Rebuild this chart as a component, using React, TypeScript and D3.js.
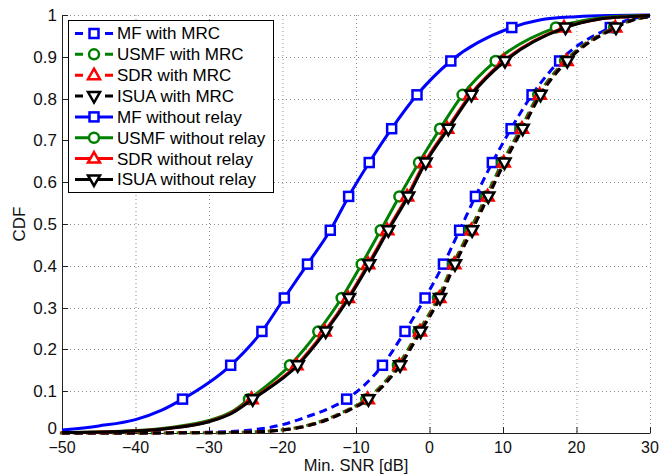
import React from "react";
import * as d3 from "d3";

const W = 659;
const H = 475;

const X_TICKS = [-50, -40, -30, -20, -10, 0, 10, 20, 30];
const Y_TICKS = [0, 0.1, 0.2, 0.3, 0.4, 0.5, 0.6, 0.7, 0.8, 0.9, 1];

// CDF levels at which markers are drawn
const MARKER_CDF = [0.081, 0.162, 0.243, 0.323, 0.404, 0.485, 0.566, 0.647, 0.728, 0.809, 0.89, 0.97];

// marker x positions (Min. SNR in dB) for each series
const mfMrcX = [-11.27, -6.4, -3.33, -0.6, 1.9, 4.1, 6.25, 8.55, 11.1, 13.95, 17.7, 24.6];
const usmfMrcX = [-8.6, -4.3, -1.5, 1.15, 3.2, 5.5, 7.7, 9.9, 12.4, 14.8, 18.45, 25.1];
const sdrMrcX = [-8.4, -4.1, -1.3, 1.33, 3.37, 5.7, 7.9, 10.1, 12.58, 15.0, 18.65, 25.27];
const isuaMrcX = [-8.3, -4.0, -1.2, 1.43, 3.47, 5.8, 8.0, 10.2, 12.68, 15.1, 18.75, 25.37];
const mfNoX = [-33.6, -27.05, -22.8, -19.75, -16.6, -13.5, -11.0, -8.2, -5.15, -1.7, 2.9, 11.2];
const usmfNoX = [-24.56, -18.98, -15.13, -11.95, -9.23, -6.64, -4.1, -1.43, 1.43, 4.5, 9.0, 17.2];
const sdrNoX = [-24.2, -18.1, -14.28, -11.1, -8.35, -5.75, -3.05, -0.67, 2.4, 5.55, 10.1, 18.3];
const isuaNoX = [-24.05, -17.93, -14.12, -10.95, -8.2, -5.6, -2.9, -0.52, 2.56, 5.7, 10.27, 18.5];

// tails of the curves beyond the marker range: [x, cdf]
const mfMrcLow: [number, number][] = [[-50, 0], [-35, 0.0005], [-30, 0.002], [-25, 0.006], [-20, 0.02], [-16.5, 0.04], [-13.5, 0.06]];
const mfMrcHigh: [number, number][] = [[27, 0.988], [30, 0.997]];
const isuaMrcLow: [number, number][] = [[-50, 0], [-30, 0.0005], [-25, 0.002], [-20, 0.007], [-15, 0.025], [-11.5, 0.05]];
const isuaMrcHigh: [number, number][] = [[28, 0.99], [30, 0.996]];
const mfNoLow: [number, number][] = [[-50, 0.007], [-45, 0.017], [-40, 0.032], [-36.5, 0.054]];
const mfNoHigh: [number, number][] = [[15, 0.988], [20, 0.996], [25, 0.999], [30, 1]];
const usmfNoLow: [number, number][] = [[-50, 0.001], [-40, 0.006], [-35, 0.014], [-30, 0.03], [-27, 0.05]];
const usmfNoHigh: [number, number][] = [[22, 0.99], [26, 0.997], [30, 0.999]];
const isuaNoLow: [number, number][] = [[-50, 0.001], [-40, 0.005], [-35, 0.012], [-30, 0.027], [-27, 0.046]];
const isuaNoHigh: [number, number][] = [[23, 0.99], [27, 0.996], [30, 0.999]];

type Marker = "square" | "circle" | "up" | "down";
interface Series {
  name: string;
  color: string;
  dashed: boolean;
  marker: Marker;
  xs: number[];
  low: [number, number][];
  high: [number, number][];
}

const SERIES: Series[] = [
  { name: "MF with MRC", color: "#0000ff", dashed: true, marker: "square", xs: mfMrcX, low: mfMrcLow, high: mfMrcHigh },
  { name: "USMF with MRC", color: "#008000", dashed: true, marker: "circle", xs: usmfMrcX, low: isuaMrcLow.map(([x, y]) => [x - 0.3, y] as [number, number]), high: isuaMrcHigh },
  { name: "SDR with MRC", color: "#ff0000", dashed: true, marker: "up", xs: sdrMrcX, low: isuaMrcLow.map(([x, y]) => [x - 0.1, y] as [number, number]), high: isuaMrcHigh },
  { name: "ISUA with MRC", color: "#000000", dashed: true, marker: "down", xs: isuaMrcX, low: isuaMrcLow, high: isuaMrcHigh },
  { name: "MF without relay", color: "#0000ff", dashed: false, marker: "square", xs: mfNoX, low: mfNoLow, high: mfNoHigh },
  { name: "USMF without relay", color: "#008000", dashed: false, marker: "circle", xs: usmfNoX, low: usmfNoLow, high: usmfNoHigh },
  { name: "SDR without relay", color: "#ff0000", dashed: false, marker: "up", xs: sdrNoX, low: isuaNoLow.map(([x, y]) => [x - 0.15, y] as [number, number]), high: isuaNoHigh },
  { name: "ISUA without relay", color: "#000000", dashed: false, marker: "down", xs: isuaNoX, low: isuaNoLow, high: isuaNoHigh },
];

const FONT = "'Liberation Sans', Arial, Helvetica, sans-serif";

function MarkerShape({ type, cx, cy, color }: { type: Marker; cx: number; cy: number; color: string }) {
  const sw = 2.5;
  if (type === "square") {
    return <rect x={cx - 4.5} y={cy - 4.5} width={9} height={9} fill="#fff" stroke={color} strokeWidth={sw} />;
  }
  if (type === "circle") {
    return <circle cx={cx} cy={cy} r={5} fill="#fff" stroke={color} strokeWidth={sw} />;
  }
  if (type === "up") {
    const p = [[cx, cy - 6.5], [cx + 6, cy + 4], [cx - 6, cy + 4]];
    return <polygon points={p.map((q) => q.join(",")).join(" ")} fill="#fff" stroke={color} strokeWidth={sw} strokeLinejoin="miter" />;
  }
  const p = [[cx, cy + 6.5], [cx + 6, cy - 4], [cx - 6, cy - 4]];
  return <polygon points={p.map((q) => q.join(",")).join(" ")} fill="#fff" stroke={color} strokeWidth={sw} strokeLinejoin="miter" />;
}

export default function App() {
  const left = 62, right = 650, top = 15, bottom = 433;
  const x = d3.scaleLinear().domain([-50, 30]).range([left, right]);
  const y = d3.scaleLinear().domain([0, 1]).range([bottom, top]);
  const line = d3
    .line<[number, number]>()
    .x((d) => x(d[0]))
    .y((d) => y(d[1]))
    .curve(d3.curveMonotoneX);

  const fmtY = (v: number) => (v === 0 ? "0" : v === 1 ? "1" : d3.format(".1f")(v));

  const legX = 68, legY = 20, legW = 205, legH = 172;
  const rowY0 = 33.5, rowDy = 20.85;

  return (
    <svg width={W} height={H} style={{ position: "absolute", left: 0, top: 0, background: "#fff" }} fontFamily={FONT}>
      <rect x={0} y={0} width={W} height={H} fill="#fff" />
      {/* grid */}
      <g stroke="#666" strokeWidth={1} strokeDasharray="1,3" opacity={0.75}>
        {X_TICKS.map((t) => (
          <line key={"gx" + t} x1={x(t) + 0.5} x2={x(t) + 0.5} y1={top} y2={bottom} />
        ))}
        {Y_TICKS.map((t) => (
          <line key={"gy" + t} x1={left} x2={right} y1={Math.round(y(t)) + 0.5} y2={Math.round(y(t)) + 0.5} />
        ))}
      </g>
      {/* axes */}
      <g stroke="#222" strokeWidth={1}>
        <line x1={left + 0.5} x2={left + 0.5} y1={top} y2={bottom + 0.5} />
        <line x1={left} x2={right + 0.5} y1={bottom + 0.5} y2={bottom + 0.5} />
        {X_TICKS.map((t) => (
          <line key={"tx" + t} x1={x(t) + 0.5} x2={x(t) + 0.5} y1={bottom} y2={bottom - 6} />
        ))}
        {Y_TICKS.map((t) => (
          <line key={"ty" + t} x1={left} x2={left + 6} y1={Math.round(y(t)) + 0.5} y2={Math.round(y(t)) + 0.5} />
        ))}
      </g>
      {/* tick labels */}
      <g fill="#111">
        {X_TICKS.map((t) => (
          <text key={"lx" + t} x={x(t)} y={452.5} textAnchor="middle" fontSize={16}>
            {d3.format("")(t)}
          </text>
        ))}
        {Y_TICKS.map((t) => (
          <text key={"ly" + t} x={57} y={y(t) - (t === 0 ? 4.5 : 0)} dy="0.35em" textAnchor="end" fontSize={17}>
            {fmtY(t)}
          </text>
        ))}
      </g>
      <text x={(left + right) / 2} y={471} textAnchor="middle" fontSize={16.5} fill="#111">
        Min. SNR [dB]
      </text>
      <text transform={`translate(25, ${(top + bottom) / 2}) rotate(-90)`} textAnchor="middle" fontSize={17} fill="#111">
        CDF
      </text>
      {/* series */}
      {SERIES.map((s, i) => {
        const markerPts: [number, number][] = s.xs.map((xv, k) => [xv, MARKER_CDF[k]]);
        const pts = [...s.low, ...markerPts, ...s.high];
        return (
          <g key={"s" + i}>
            <path d={line(pts) || ""} fill="none" stroke={s.color} strokeWidth={3} strokeDasharray={s.dashed ? "8,5" : undefined} />
            {markerPts.map((p, k) => (
              <MarkerShape key={k} type={s.marker} cx={x(p[0])} cy={y(p[1])} color={s.color} />
            ))}
          </g>
        );
      })}
      {/* legend */}
      <rect x={legX + 0.5} y={legY + 0.5} width={legW} height={legH} fill="#fff" stroke="#000" strokeWidth={1} />
      {SERIES.map((s, i) => {
        const cy = rowY0 + i * rowDy;
        return (
          <g key={"l" + i}>
            <line x1={75} x2={113} y1={cy} y2={cy} stroke={s.color} strokeWidth={3} strokeDasharray={s.dashed ? "8,22,8" : undefined} />
            <MarkerShape type={s.marker} cx={94} cy={cy} color={s.color} />
            <text x={117} y={cy} dy="0.35em" fontSize={17} fill="#000">
              {s.name}
            </text>
          </g>
        );
      })}
    </svg>
  );
}
